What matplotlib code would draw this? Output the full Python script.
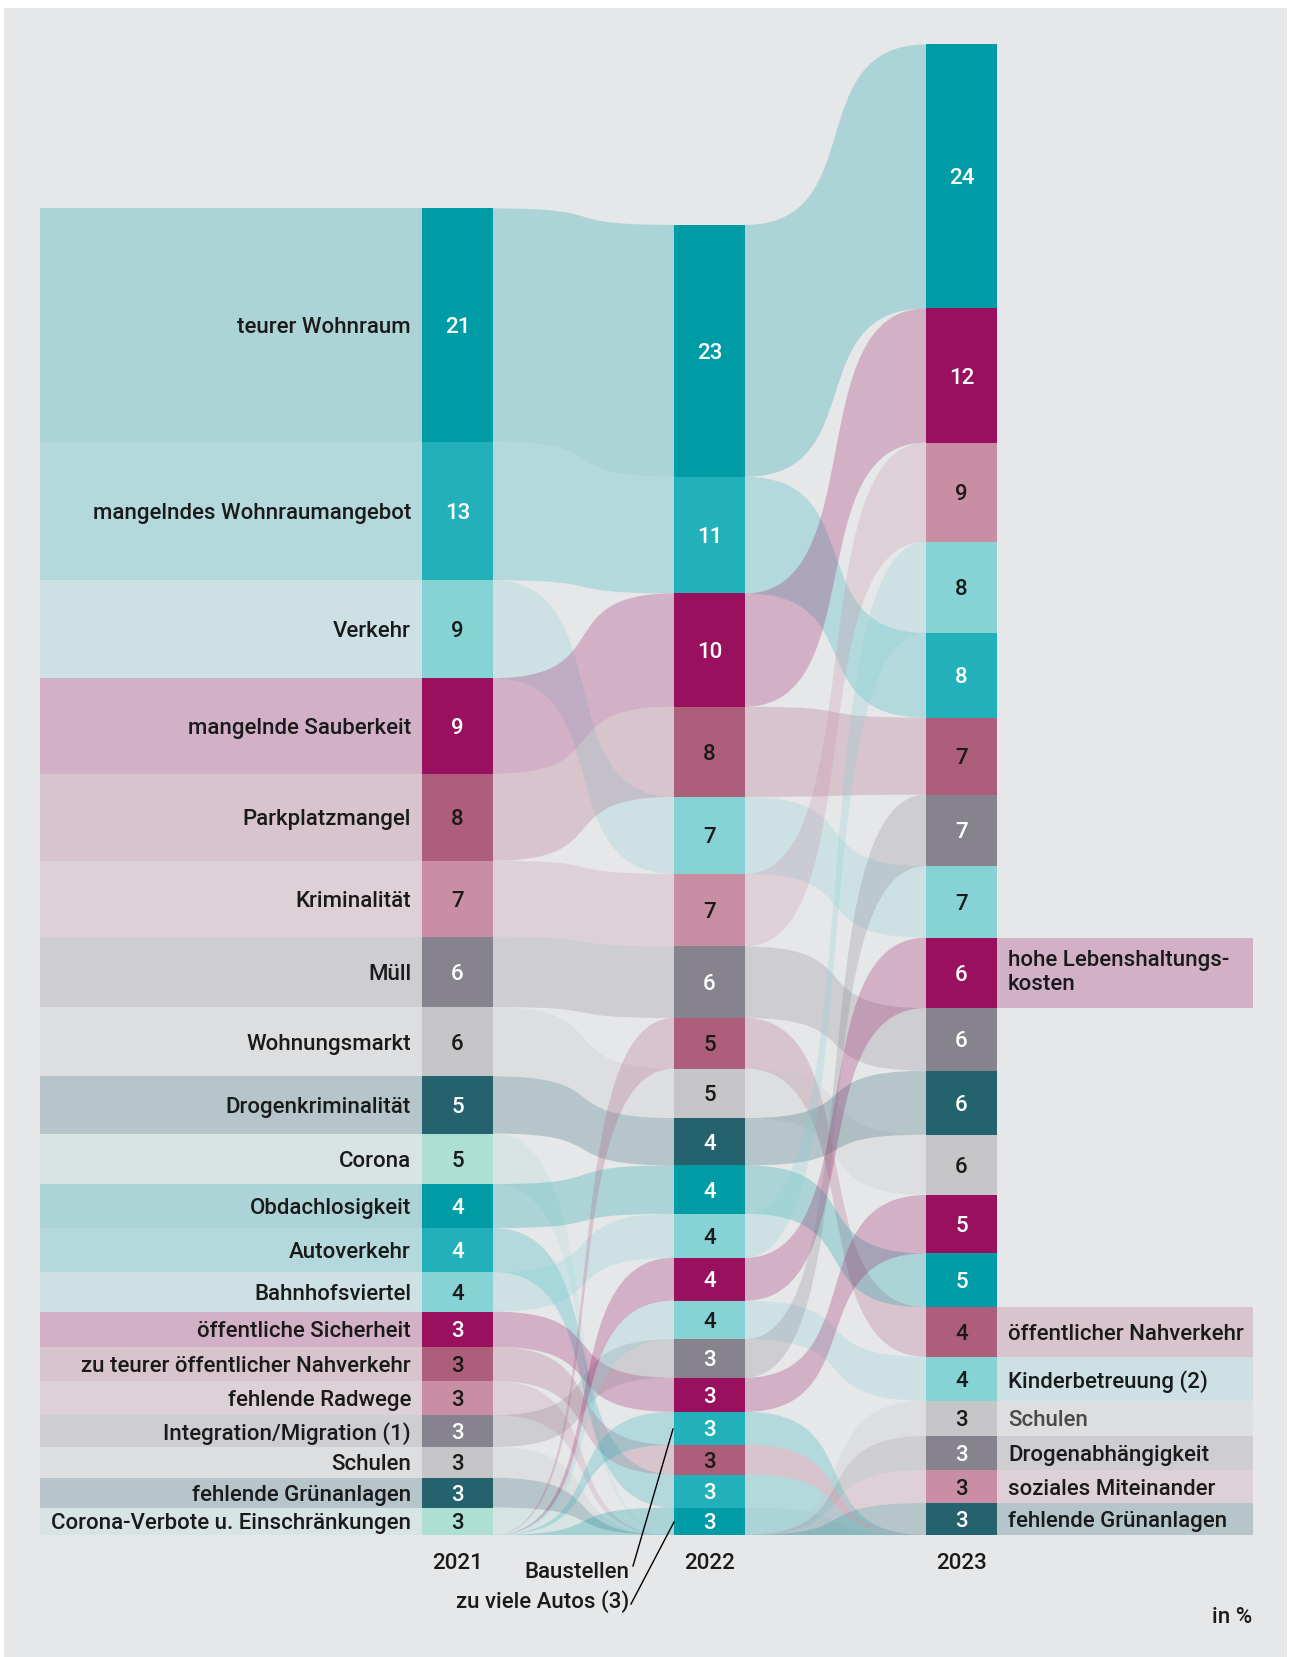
import matplotlib.pyplot as plt
from matplotlib.path import Path
from matplotlib.patches import PathPatch, Rectangle

plt.rcParams["font.family"] = ["Roboto", "DejaVu Sans"]
plt.rcParams["font.weight"] = "medium"

# -----------------------------
# DATA (shares in %, top to bottom per year)
# -----------------------------
years = ["2021", "2022", "2023"]

labels_2021 = [
    "teurer Wohnraum", "mangelndes Wohnraumangebot", "Verkehr", "mangelnde Sauberkeit",
    "Parkplatzmangel", "Kriminalität", "Müll", "Wohnungsmarkt", "Drogenkriminalität",
    "Corona", "Obdachlosigkeit", "Autoverkehr", "Bahnhofsviertel", "öffentliche Sicherheit",
    "zu teurer öffentlicher Nahverkehr", "fehlende Radwege", "Integration/Migration (1)",
    "Schulen", "fehlende Grünanlagen", "Corona-Verbote u. Einschränkungen",
]
shares_2021 = [21.2, 12.6, 8.9, 8.7, 7.9, 6.9, 6.4, 6.3, 5.2, 4.6,
               4.0, 4.0, 3.6, 3.2, 3.1, 3.1, 2.9, 2.8, 2.7, 2.5]
shown_2021 = [21, 13, 9, 9, 8, 7, 6, 6, 5, 5, 4, 4, 4, 3, 3, 3, 3, 3, 3, 3]
colors_2021 = ["tealdark", "teal", "lteal", "magenta", "mauve", "pink", "gray", "lgray", "slate", "mint",
               "tealdark", "teal", "lteal", "magenta", "mauve", "pink", "gray", "lgray", "slate", "mint"]

shares_2022 = [22.9, 10.6, 10.3, 8.2, 7.0, 6.6, 6.5, 4.6, 4.5, 4.3,
               4.4, 4.0, 3.9, 3.5, 3.5, 3.1, 3.0, 2.7, 3.0, 2.5]
shown_2022 = [23, 11, 10, 8, 7, 7, 6, 5, 5, 4, 4, 4, 4, 4, 3, 3, 3, 3, 3, 3]
colors_2022 = ["tealdark", "teal", "magenta", "mauve", "lteal", "pink", "gray", "mauve", "lgray", "slate",
               "tealdark", "lteal", "magenta", "lteal", "gray", "magenta", "teal", "mauve", "teal", "tealdark"]

shares_2023 = [24.0, 12.2, 9.0, 8.3, 7.7, 7.0, 6.5, 6.5, 6.4, 5.7,
               5.8, 5.5, 5.3, 4.9, 4.5, 4.0, 3.2, 3.1, 3.0, 2.9]
shown_2023 = [24, 12, 9, 8, 8, 7, 7, 7, 6, 6, 6, 6, 5, 5, 4, 4, 3, 3, 3, 3]
colors_2023 = ["tealdark", "magenta", "pink", "lteal", "teal", "mauve", "gray", "lteal", "magenta", "gray",
               "slate", "lgray", "magenta", "tealdark", "mauve", "lteal", "lgray", "gray", "pink", "slate"]
labels_2023 = [None] * 8 + ["hohe Lebenshaltungs-\nkosten"] + [None] * 5 + [
    "öffentlicher Nahverkehr", "Kinderbetreuung (2)", "Schulen",
    "Drogenabhängigkeit", "soziales Miteinander", "fehlende Grünanlagen"]

# which item of the next year each item continues into (None = dropped out)
links_21_22 = [0, 1, 4, 2, 3, 5, 6, 8, 9, None, 10, 18, 11, 15, 17, None, 14, None, None, None]
links_22_23 = [0, 4, 1, 5, 7, 2, 9, 14, 11, 10, 13, 3, 8, 15, 6, 12, None, None, None, None]

palette = {
    "tealdark": "#009ca5", "teal": "#22b1bb", "lteal": "#86d3d6",
    "magenta": "#98105e", "mauve": "#ad5e7b", "pink": "#c98ea3",
    "gray": "#87838e", "lgray": "#c6c5c8", "slate": "#24626e", "mint": "#addfd3",
}
white_text = {"tealdark", "teal", "magenta", "gray", "slate"}

# -----------------------------
# LAYOUT
# -----------------------------
W, H = 1290, 1657
PX = 11.0          # pixels per percentage point
BASE = 1535        # baseline (px from top)
BAR_X = [422, 674, 926]
BAR_W = 71
TINT = 0.25
TXT = "#1a1a1a"
FS = 16
VA = "center_baseline"


def ypx(p):
    return (BASE - p) / PX


def stack(vals):
    tops, bots = [], []
    for i in range(len(vals)):
        bots.append(sum(vals[i + 1:]))
        tops.append(sum(vals[i:]))
    return tops, bots


def band(ax, x0, t0, b0, x1, t1, b1, color):
    a = 0.7
    dx = x1 - x0
    verts = [(x0, t0), (x0 + a * dx, t0), (x1 - a * dx, t1), (x1, t1),
             (x1, b1), (x1 - a * dx, b1), (x0 + a * dx, b0), (x0, b0), (x0, t0)]
    codes = [Path.MOVETO, Path.CURVE4, Path.CURVE4, Path.CURVE4,
             Path.LINETO, Path.CURVE4, Path.CURVE4, Path.CURVE4, Path.CLOSEPOLY]
    ax.add_patch(PathPatch(Path(verts, codes), facecolor=color, edgecolor="none",
                           alpha=TINT, zorder=2))


fig = plt.figure(figsize=(W / 100, H / 100), dpi=100)
ax = fig.add_axes([0, 0, 1, 1])
ax.set_xlim(0, W)
ax.set_ylim(ypx(H), ypx(0))
ax.axis("off")

# background panel
ax.add_patch(Rectangle((4, ypx(H)), 1283, ypx(8) - ypx(H), facecolor="#e6e7e9",
                       edgecolor="none", zorder=0))

columns = [
    (shares_2021, shown_2021, colors_2021),
    (shares_2022, shown_2022, colors_2022),
    (shares_2023, shown_2023, colors_2023),
]
stacks = [stack(c[0]) for c in columns]

# flows between columns
for k, links in enumerate([links_21_22, links_22_23]):
    tops0, bots0 = stacks[k]
    tops1, bots1 = stacks[k + 1]
    x0 = BAR_X[k] + BAR_W
    x1 = BAR_X[k + 1]
    cols0 = columns[k][2]
    cols1 = columns[k + 1][2]
    for i, j in enumerate(links):
        c = palette[cols0[i]]
        if j is None:
            band(ax, x0, tops0[i], bots0[i], x1, 0, 0, c)
        else:
            band(ax, x0, tops0[i], bots0[i], x1, tops1[j], bots1[j], c)
    # items that are new in the next year grow from the baseline
    for j in range(len(tops1)):
        if j not in links:
            band(ax, x0, 0, 0, x1, tops1[j], bots1[j], palette[cols1[j]])

# bars + numbers
for k, (vals, shown, cols) in enumerate(columns):
    tops, bots = stacks[k]
    for i in range(len(vals)):
        ax.add_patch(Rectangle((BAR_X[k], bots[i]), BAR_W, vals[i],
                               facecolor=palette[cols[i]], edgecolor="none", zorder=3))
        ax.text(BAR_X[k] + BAR_W / 2, (tops[i] + bots[i]) / 2, str(shown[i]),
                ha="center", va=VA, fontsize=FS, zorder=4,
                color="white" if cols[i] in white_text else TXT)
    ax.text(BAR_X[k] + BAR_W / 2, ypx(1561), years[k], ha="center", va=VA,
            fontsize=FS, color=TXT)

# left labels (2021)
tops, bots = stacks[0]
for i, lab in enumerate(labels_2021):
    ax.add_patch(Rectangle((40, bots[i]), BAR_X[0] - 40, shares_2021[i],
                           facecolor=palette[colors_2021[i]], alpha=TINT,
                           edgecolor="none", zorder=1))
    ax.text(411, (tops[i] + bots[i]) / 2, lab, ha="right", va=VA,
            fontsize=FS, color=TXT, zorder=4)

# right labels (2023)
tops, bots = stacks[2]
xr = BAR_X[2] + BAR_W
for i, lab in enumerate(labels_2023):
    if lab is None:
        continue
    ax.add_patch(Rectangle((xr, bots[i]), 1253 - xr, shares_2023[i],
                           facecolor=palette[colors_2023[i]], alpha=TINT,
                           edgecolor="none", zorder=1))
    ax.text(1008, (tops[i] + bots[i]) / 2, lab, ha="left",
            va="center" if "\n" in lab else VA,
            fontsize=FS, color="#4a4a4a" if lab == "Schulen" else TXT,
            linespacing=1.2, zorder=4)

# annotations for two new 2022 items
ax.text(629, ypx(1570), "Baustellen", ha="right", va=VA, fontsize=FS, color=TXT)
ax.text(629, ypx(1599), "zu viele Autos (3)", ha="right", va=VA, fontsize=FS, color=TXT)
ax.plot([633, 673], [ypx(1566), ypx(1429)], color="black", lw=1, zorder=5)
ax.plot([631, 674], [ypx(1604), ypx(1522)], color="black", lw=1, zorder=5)

ax.text(1252, ypx(1615), "in %", ha="right", va=VA, fontsize=FS, color=TXT)

fig.savefig("out.png", dpi=100, facecolor="white")
